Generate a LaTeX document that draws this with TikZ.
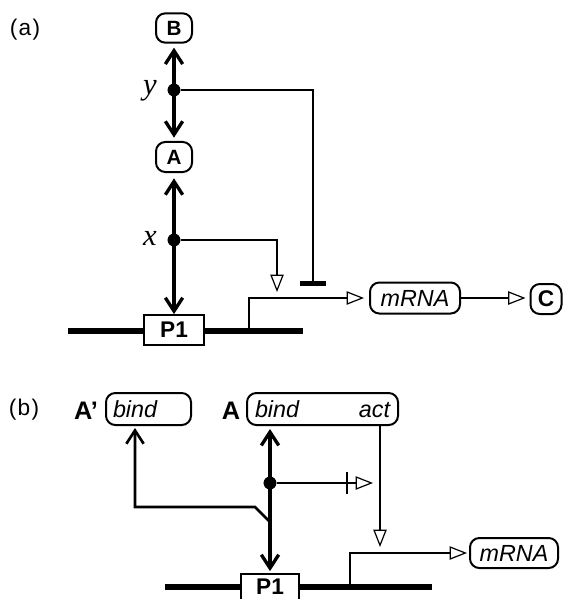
\documentclass[tikz,border=0pt]{standalone}
\usepackage{fontspec}
\setmainfont{Liberation Sans}
\newfontfamily\serifit{Liberation Serif}
\usetikzlibrary{arrows.meta,calc}
\tikzset{
 box/.style={draw, rounded corners=7pt, line width=1.5pt, inner sep=0pt, fill=white},
 sq/.style={draw, line width=1.3pt, inner sep=0pt, fill=white, minimum height=22.5pt, font=\fontsize{17pt}{19pt}\selectfont\bfseries},
 small/.style={font=\fontsize{15.5pt}{17pt}\selectfont\bfseries},
 itl/.style={font=\fontsize{17.5pt}{20pt}\selectfont\itshape},
 dna/.style={line width=4pt},
 main/.style={line width=2.5pt},
 side/.style={line width=1.8pt},
 barb/.tip={Straight Barb[length=10pt,width=13pt]},
 barbs/.style={main, barb-barb},
 opent/.style={side, -{Triangle[open, length=13pt, width=10pt, line width=0.9pt]}},
 jdot/.style={circle, fill=black, inner sep=0pt, minimum size=9.5pt},
 lab/.style={font=\fontsize{17pt}{19pt}\selectfont},
 var/.style={font=\fontsize{23pt}{26pt}\selectfont\serifit\itshape, inner sep=0pt, anchor=base east},
 bigl/.style={font=\fontsize{19pt}{21pt}\selectfont\bfseries},
}
\begin{document}
\begin{tikzpicture}[x=0.75pt,y=-0.75pt]
\useasboundingbox (0,0) rectangle (562,599);
% ---------------- (a)
\node[lab] (la) at (25,30) {(\kern1pt a\kern1pt)};
\coordinate (dnaAL) at (68,331);
\coordinate (dnaAR) at (303,331);
\draw[dna] (dnaAL) -- (dnaAR);
\node[box, small, minimum width=27pt, minimum height=22pt] (B) at (174,28) {B};
\node[box, small, minimum width=27pt, minimum height=22.5pt] (A) at (174,157) {A};
\node[sq, minimum width=45pt] (P1a) at (174,330) {P1};
\node[box, itl, minimum width=67.5pt, minimum height=23.25pt] (mRNAa) at (415,298) {mRNA};
\node[box, font=\fontsize{17pt}{19pt}\selectfont\bfseries, minimum width=23.25pt, minimum height=22.5pt] (C) at (546,299) {C};
\node[jdot] (dy) at (174,90) {};
\node[jdot] (dx) at (174,240) {};
\node[var] (ly) at (157,95) {y};
\node[var] (lx) at (157,245) {x};
\coordinate (inhA) at (313,286);
\coordinate (actA) at (277,292);
\coordinate (prA) at (249,331);
\draw[barbs, shorten <=3pt, shorten >=2.5pt] (B) -- (A);
\draw[barbs, shorten <=4pt] (A) -- (P1a);
\draw[side, line width=2pt, -{Bar[width=19pt, line width=3.8pt]}] (dy) -| (inhA);
\draw[opent] (dx) -| (actA);
\draw[opent, shorten >=3.75pt] (prA) |- (mRNAa.west);
\draw[opent, shorten >=3pt, line width=2.2pt] (mRNAa.east) -- (mRNAa.east -| C.west);
\node[jdot] at (dy) {};
\node[jdot] at (dx) {};
% ---------------- (b)
\node[lab] (lb) at (24,410) {(\kern1pt b\kern1pt)};
\coordinate (dnaBL) at (165,587);
\coordinate (dnaBR) at (432,587);
\draw[dna] (dnaBL) -- (dnaBR);
\node[bigl] (lAp) at (86,411) {A’};
\node[bigl] (lA) at (231,411) {A};
\node[box, itl, minimum height=24pt, text width=53.25pt, inner xsep=5.25pt, align=left] (Apbox) at (148.5,409) {bind};
\node[box, itl, minimum height=24pt, text width=101.25pt, inner xsep=6pt] (Abox) at (322.5,409) {bind\hfill act};
\node[sq, minimum width=43.5pt, minimum height=24pt] (P1b) at (270,590) {};
\node[font=\fontsize{17pt}{19pt}\selectfont\bfseries, inner sep=0pt] (P1t) at (270,586.5) {P1};
\node[box, itl, minimum width=66pt, minimum height=22.5pt] (mRNAb) at (514,553) {mRNA};
\node[jdot] (dotb) at (270,483) {};
\coordinate (jb) at (270,522);
\coordinate (kb) at (255,507);
\coordinate (apB) at ($(Apbox.south west)+(30,0)$);
\coordinate (tk) at (347,483);
\coordinate (tipb) at (373,483);
\coordinate (actb) at (380,547);
\coordinate (prB) at (350,587);
\draw[barbs, shorten <=2.25pt, shorten >=1.5pt] (dotb |- Abox.south) -- (dotb |- P1b.north);
\draw[side, line width=2pt, -barb, shorten >=1.5pt] (jb) -- (kb) -| (apB);
\draw[opent] (dotb) -- (tipb);
\draw[line width=1pt] ($(tk)+(0,-11)$) -- ($(tk)+(0,11)$);
\draw[opent] (actb |- Abox.south) -- (actb);
\draw[opent, shorten >=1.5pt] (prB) |- (mRNAb.west);
\node[jdot] at (dotb) {};
\end{tikzpicture}
\end{document}
